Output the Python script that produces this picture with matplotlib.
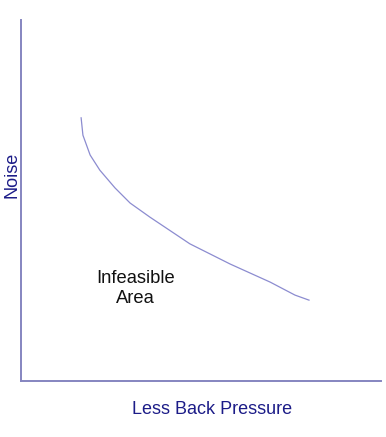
import matplotlib
matplotlib.use("Agg")
import matplotlib.pyplot as plt

plt.rcParams['font.family'] = ['Liberation Sans', 'DejaVu Sans']

# Frontier curve (axes 0..100)
curve_x = [16.7, 17.2, 19.2, 21.9, 26.1, 30.3, 35.8, 46.9, 58.1, 69.2, 76.1, 80.0]
curve_y = [72.9, 68.1, 62.6, 58.4, 53.5, 49.3, 45.4, 38.0, 32.4, 27.4, 23.8, 22.4]
x_label = "Less Back Pressure"
y_label = "Noise"
region_label = "Infeasible\nArea"

W, H = 386, 437
fig = plt.figure(figsize=(W / 100, H / 100), dpi=100)
ax = fig.add_axes([21 / W, 1 - 381 / H, 360 / W, 361 / H])
ax.set_xlim(0, 100)
ax.set_ylim(0, 100)
ax.plot(curve_x, curve_y, color='#8c8cd0', lw=0.9)

for s in ['top', 'right']:
    ax.spines[s].set_visible(False)
for s in ['left', 'bottom']:
    ax.spines[s].set_color('#8585c0')
    ax.spines[s].set_linewidth(1.4)
ax.set_xticks([])
ax.set_yticks([])

ax.text(31.9, 25.6, region_label, ha='center', va='center', fontsize=13.2,
        color='#111111', linespacing=1.25)

fig.text(212 / W, 1 - 409 / H, x_label, ha='center', va='center',
         fontsize=13, color='#1c1c88')
fig.text(12 / W, 1 - 175 / H, y_label, ha='center', va='center',
         fontsize=13, color='#1c1c88', rotation=90)

fig.savefig('out.png', dpi=100, facecolor='white')
